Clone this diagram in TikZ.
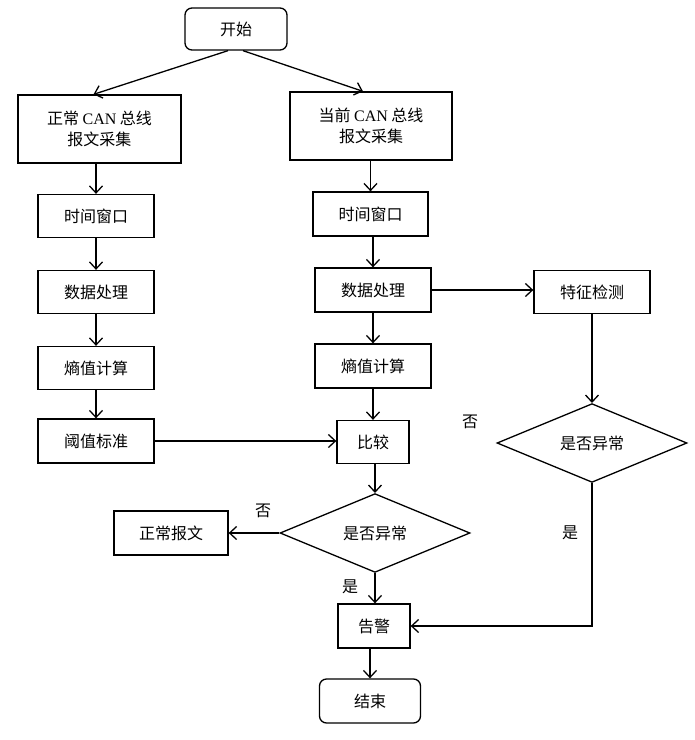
\documentclass[tikz,border=0pt]{standalone}
\usepackage{fontspec}
\setmainfont{Liberation Serif}
\newfontfamily\cjk{Noto Sans CJK SC}
\usetikzlibrary{arrows.meta,shapes.geometric}
\begin{document}
\begin{tikzpicture}[x=1pt,y=-1pt,
  box/.style={draw, line width=1.3pt, inner sep=0pt, align=center,
    font=\fontsize{16}{21}\selectfont\cjk},
  term/.style={box, rounded corners=7pt},
  dec/.style={box, diamond, minimum width=190pt, minimum height=76pt},
  arr/.style={line width=1.3pt, -{Straight Barb[length=7pt,width=13pt,line width=1.3pt]}},
  lbl/.style={font=\fontsize{16}{20}\selectfont\cjk, inner sep=0pt}]
\useasboundingbox (0,0) rectangle (695,740);
\node[term, minimum width=102pt, minimum height=42pt] (start) at (236,29) {开始};
\node[box, minimum width=163pt, minimum height=68pt] (n1) at (99.5,129) {正常 {\rmfamily CAN} 总线\\报文采集};
\node[box, minimum width=162pt, minimum height=68pt] (c1) at (371,126) {当前 {\rmfamily CAN} 总线\\报文采集};
\node[box, minimum width=116pt, minimum height=43pt] (n2) at (96,216) {时间窗口};
\node[box, minimum width=115pt, minimum height=44pt] (c2) at (370.5,214) {时间窗口};
\node[box, minimum width=116pt, minimum height=43pt] (n3) at (96,292) {数据处理};
\node[box, minimum width=116pt, minimum height=44pt] (c3) at (373,290) {数据处理};
\node[box, minimum width=116pt, minimum height=43pt] (n4) at (96,368) {熵值计算};
\node[box, minimum width=116pt, minimum height=44pt] (c4) at (373,366) {熵值计算};
\node[box, minimum width=116pt, minimum height=44pt] (n5) at (96,441) {阈值标准};
\node[box, minimum width=72pt, minimum height=43pt] (cmp) at (373,442) {比较};
\node[box, minimum width=116pt, minimum height=43pt] (feat) at (592,292) {特征检测};
\node[dec] (d2) at (592,443) {是否异常};
\node[dec] (d1) at (375,533) {是否异常};
\node[box, minimum width=114pt, minimum height=44pt] (normal) at (171,533) {正常报文};
\node[box, minimum width=72pt, minimum height=44pt] (alarm) at (374,626) {告警};
\node[term, minimum width=101pt, minimum height=44pt] (end) at (370,701) {结束};
\node[lbl] (no1) at (470,422) {否};
\node[lbl] (no2) at (263,511) {否};
\node[lbl] (yes1) at (350,587) {是};
\node[lbl] (yes2) at (570,533) {是};
\draw[arr] ([xshift=-8pt]start.south) -- ([xshift=-6pt]n1.north);
\draw[arr] ([xshift=7pt]start.south) -- ([xshift=-8pt]c1.north);
\draw[arr] (n2.north |- n1.south) -- (n2.north);
\draw[arr] (n2.south) -- (n3.north);
\draw[arr] (n3.south) -- (n4.north);
\draw[arr] (n4.south) -- (n5.north);
\draw[arr] (c2.north |- c1.south) -- (c2.north);
\draw[arr] (c3.north |- c2.south) -- (c3.north);
\draw[arr] (c3.south) -- (c4.north);
\draw[arr] (c4.south) -- (cmp.north);
\draw[arr] (n5.east) -- (n5.east -| cmp.west);
\draw[arr] (c3.east) -- (c3.east -| feat.west);
\draw[arr] (feat.south) -- (d2.north);
\draw[arr] (d1.north |- cmp.south) -- (d1.north);
\draw[arr] (d1.west) -- (normal.east);
\draw[arr] (d1.south) -- (d1.south |- alarm.north);
\draw[arr] (d2.south) -- (d2.south |- alarm.east) -- (alarm.east);
\draw[arr] (end.north |- alarm.south) -- (end.north);
\end{tikzpicture}
\end{document}
